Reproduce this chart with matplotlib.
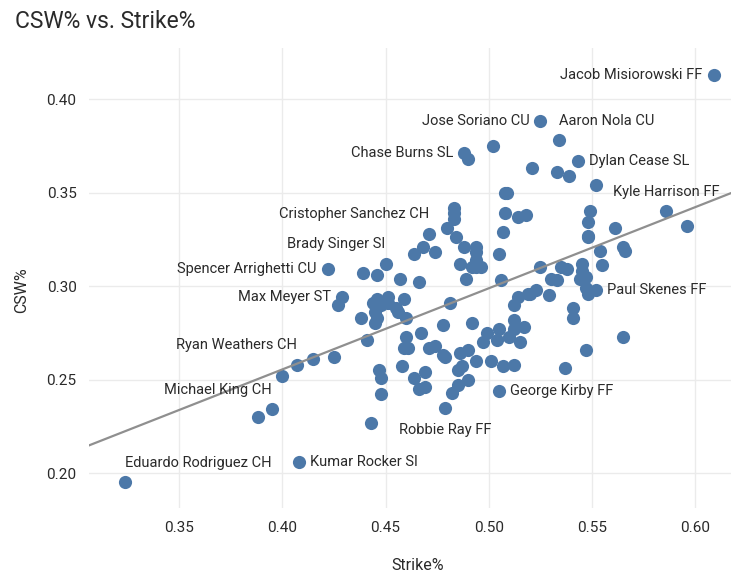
import numpy as np
import matplotlib
matplotlib.use("Agg")
import matplotlib.pyplot as plt

plt.rcParams['font.family'] = ['Roboto', 'DejaVu Sans']

strike = [
    0.609, 0.525, 0.534, 0.502, 0.488, 0.490, 0.543, 0.521, 0.533, 0.539,
    0.552, 0.508, 0.509, 0.586, 0.549, 0.483, 0.483, 0.483, 0.508, 0.514,
    0.518, 0.548, 0.561, 0.596, 0.471, 0.480, 0.484, 0.507, 0.548, 0.548,
    0.468, 0.464, 0.474, 0.488, 0.494, 0.494, 0.494, 0.494, 0.492, 0.496,
    0.486, 0.505, 0.554, 0.565, 0.566, 0.450, 0.439, 0.446, 0.457, 0.466,
    0.489, 0.506, 0.422, 0.555, 0.525, 0.535, 0.538, 0.545, 0.545, 0.547,
    0.544, 0.530, 0.533, 0.547, 0.548, 0.552, 0.523, 0.520, 0.514, 0.512,
    0.519, 0.529, 0.429, 0.427, 0.444, 0.446, 0.451, 0.451, 0.448, 0.455,
    0.456, 0.459, 0.445, 0.446, 0.445, 0.438, 0.460, 0.481, 0.541, 0.541,
    0.478, 0.492, 0.512, 0.517, 0.512, 0.505, 0.504, 0.510, 0.515, 0.499,
    0.497, 0.565, 0.441, 0.460, 0.461, 0.459, 0.467, 0.471, 0.474, 0.478,
    0.479, 0.486, 0.490, 0.494, 0.501, 0.507, 0.512, 0.547, 0.537, 0.425,
    0.415, 0.407, 0.400, 0.447, 0.448, 0.448, 0.458, 0.464, 0.469, 0.466,
    0.469, 0.485, 0.487, 0.490, 0.485, 0.482, 0.479, 0.505, 0.443, 0.395,
    0.388, 0.324, 0.408,
]
csw = [
    0.413, 0.388, 0.378, 0.375, 0.371, 0.368, 0.367, 0.363, 0.361, 0.359,
    0.354, 0.350, 0.350, 0.340, 0.340, 0.342, 0.339, 0.336, 0.339, 0.337,
    0.338, 0.334, 0.331, 0.332, 0.328, 0.331, 0.326, 0.329, 0.327, 0.326,
    0.321, 0.317, 0.318, 0.321, 0.321, 0.318, 0.314, 0.310, 0.310, 0.310,
    0.312, 0.317, 0.319, 0.321, 0.319, 0.312, 0.307, 0.306, 0.304, 0.302,
    0.304, 0.303, 0.309, 0.311, 0.310, 0.310, 0.309, 0.312, 0.308, 0.305,
    0.304, 0.304, 0.303, 0.299, 0.296, 0.298, 0.298, 0.296, 0.294, 0.290,
    0.296, 0.295, 0.294, 0.290, 0.291, 0.293, 0.294, 0.291, 0.290, 0.288,
    0.286, 0.293, 0.286, 0.283, 0.280, 0.283, 0.283, 0.291, 0.288, 0.283,
    0.279, 0.280, 0.282, 0.278, 0.277, 0.277, 0.271, 0.273, 0.270, 0.275,
    0.270, 0.273, 0.271, 0.273, 0.267, 0.267, 0.275, 0.267, 0.268, 0.263,
    0.262, 0.264, 0.266, 0.260, 0.260, 0.257, 0.258, 0.266, 0.256, 0.262,
    0.261, 0.258, 0.252, 0.255, 0.251, 0.242, 0.257, 0.251, 0.254, 0.245,
    0.246, 0.255, 0.257, 0.250, 0.247, 0.243, 0.235, 0.244, 0.227, 0.234,
    0.230, 0.195, 0.206,
]

# labelled pitchers: index into arrays, label, text position
label_idx = [0, 1, 2, 4, 6, 13, 24, 45, 52, 65, 72, 121, 136, 137, 139, 141, 142]
label_text = [
    "Jacob Misiorowski FF", "Jose Soriano CU", "Aaron Nola CU", "Chase Burns SL",
    "Dylan Cease SL", "Kyle Harrison FF", "Cristopher Sanchez CH", "Brady Singer SI",
    "Spencer Arrighetti CU", "Paul Skenes FF", "Max Meyer ST", "Ryan Weathers CH",
    "Robbie Ray FF", "George Kirby FF", "Michael King CH", "Eduardo Rodriguez CH",
    "Kumar Rocker SI",
]
label_pos = [
    "middle left", "middle left", "top right", "middle left",
    "middle right", "top center", "top left", "top left",
    "middle left", "middle right", "middle left", "top left",
    "bottom center", "middle right", "top left", "top right",
    "middle right",
]

# trend line (OLS as drawn in the reference)
trend_slope = 0.434
trend_intercept = 0.0818

x_ticks = [0.35, 0.40, 0.45, 0.50, 0.55, 0.60]
y_ticks = [0.20, 0.25, 0.30, 0.35, 0.40]

fig = plt.figure(figsize=(7.31, 5.82), dpi=100)
ax = fig.add_axes([89 / 731, 1 - 508 / 582, 1 - 89 / 731, (508 - 48) / 582])

ax.set_xlim(0.3064, 0.6173)
ax.set_ylim(0.1813, 0.4273)

ax.grid(True, color='#ebebeb', linewidth=1)
ax.set_axisbelow(True)
for s in ax.spines.values():
    s.set_visible(False)
ax.tick_params(length=0, labelsize=11, labelcolor='#2a2a2a', pad=9)
ax.set_xticks(x_ticks)
ax.set_yticks(y_ticks)
ax.set_xticklabels([f"{v:.2f}" for v in x_ticks])
ax.set_yticklabels([f"{v:.2f}" for v in y_ticks])

xs = np.array(strike)
ys = np.array(csw)
ax.scatter(xs, ys, s=90, color='#4C78A8', linewidths=0, zorder=2)

lx = np.array(ax.get_xlim())
ax.plot(lx, trend_intercept + trend_slope * lx, color='#8f8f8f', linewidth=1.6, zorder=3)

offsets = {
    "middle left": ((-8, 0), 'right', 'center'),
    "middle right": ((8, 0), 'left', 'center'),
    "top right": ((0, 14), 'left', 'center'),
    "top left": ((0, 14), 'right', 'center'),
    "top center": ((0, 14), 'center', 'center'),
    "bottom center": ((0, -16), 'center', 'center'),
}
for i, t, p in zip(label_idx, label_text, label_pos):
    off, ha, va = offsets[p]
    ax.annotate(t, (strike[i], csw[i]), xytext=off, textcoords='offset points',
                ha=ha, va=va, fontsize=10.5, color='#2a2a2a', zorder=4)

fig.text(15 / 731, 1 - 22 / 582, "CSW% vs. Strike%", fontsize=16.5, color='#2a2a2a',
         ha='left', va='center')
fig.text(418 / 731, 1 - 565 / 582, "Strike%", fontsize=11.5, color='#2a2a2a',
         ha='center', va='center')
fig.text(22 / 731, 1 - 290 / 582, "CSW%", fontsize=11.5, color='#2a2a2a',
         ha='center', va='center', rotation=90)

fig.savefig("out.png", dpi=100)
